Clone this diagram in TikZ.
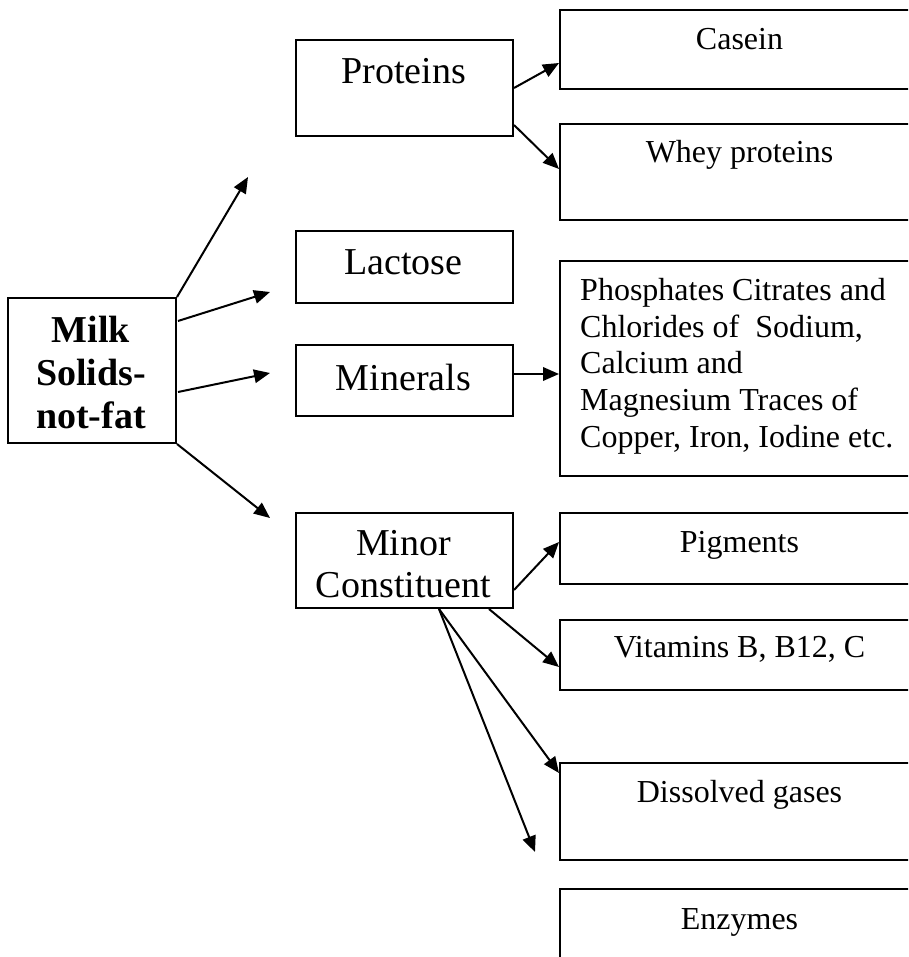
\documentclass[tikz,border=0pt]{standalone}
\usepackage{fontspec}
\setmainfont{Liberation Serif}
\usetikzlibrary{arrows.meta,calc}
\begin{document}
\begin{tikzpicture}[x=1pt,y=-1pt,
  box/.style={draw,line width=2pt,rectangle,inner sep=0pt,anchor=north west},
  big/.style={font=\fontsize{38}{44}\selectfont,inner sep=0pt,anchor=base},
  bigbold/.style={font=\fontsize{38}{44}\selectfont\bfseries,inner sep=0pt,anchor=base},
  small/.style={font=\fontsize{32}{37}\selectfont,inner sep=0pt,anchor=base},
  smallleft/.style={font=\fontsize{32}{37}\selectfont,inner sep=0pt,anchor=base west},
  link/.style={line width=2pt,-{Triangle[length=16pt,width=13.5pt]}}]
\useasboundingbox (0,0) rectangle (908,957);
\fill[white] (0,0) rectangle (908,957);
\clip (0,0) rectangle (908,957);

% root box
\node[box,minimum width=168pt,minimum height=145pt] (milk) at (7,297) {};
\node[bigbold] (milk1) at (91,342) {Milk};
\node[bigbold] (milk2) at (91,385) {Solids-};
\node[bigbold] (milk3) at (91,428) {not-fat};

% second level
\node[box,minimum width=217pt,minimum height=96pt] (prot) at (295,39) {};
\node[big] (protT) at (403.5,84) {Proteins};
\node[box,minimum width=217pt,minimum height=72pt] (lact) at (295,230) {};
\node[big] (lactT) at (403.5,275) {Lactose};
\node[box,minimum width=217pt,minimum height=71pt] (minr) at (295,344) {};
\node[big] (minrT) at (403.5,390) {Minerals};
\node[box,minimum width=217pt,minimum height=95pt] (minor) at (295,512) {};
\node[big] (minor1) at (403.5,555) {Minor};
\node[big] (minor2) at (403.5,597) {Constituent};

% third level
\node[box,minimum width=361pt,minimum height=79pt] (casein) at (559,9) {};
\node[small] (caseinT) at (739.5,50) {Casein};
\node[box,minimum width=361pt,minimum height=96pt] (whey) at (559,123) {};
\node[small] (wheyT) at (739.5,163) {Whey proteins};
\node[box,minimum width=361pt,minimum height=215pt] (phos) at (559,260) {};
\node[smallleft] (phos1) at (580,300) {Phosphates Citrates and};
\node[smallleft] (phos2) at (580,337) {Chlorides of~ Sodium,};
\node[smallleft] (phos3) at (580,373) {Calcium and};
\node[smallleft] (phos4) at (580,410) {Magnesium Traces of};
\node[smallleft] (phos5) at (580,447) {Copper, Iron, Iodine etc.};
\node[box,minimum width=361pt,minimum height=71pt] (pig) at (559,512) {};
\node[small] (pigT) at (739.5,552) {Pigments};
\node[box,minimum width=361pt,minimum height=70pt] (vit) at (559,619) {};
\node[small] (vitT) at (739.5,657) {Vitamins B, B12, C};
\node[box,minimum width=361pt,minimum height=97pt] (diss) at (559,762) {};
\node[small] (dissT) at (739.5,802) {Dissolved gases};
\node[box,minimum width=361pt,minimum height=100pt] (enz) at (559,888) {};
\node[small] (enzT) at (739.5,929) {Enzymes};

% free arrow ends
\coordinate (freeA) at (248,177);
\coordinate (freeB) at (535,852);

% connectors from the root
\draw[link] (milk.north east) -- (freeA);
\draw[link] ($(milk.north east)+(1,24)$) -- ($(lact.south west)+(-25,-12)$);
\draw[link] ($(milk.north east)+(1,95)$) -- ($(minr.north west)+(-25,29)$);
\draw[link] (milk.south east) -- ($(minor.north west)+(-25,6)$);

% connectors to the third level
\draw[link] (prot.east) -- ($(casein.north west)+(0,54)$);
\draw[link] ($(prot.south east)+(0,-12)$) -- ($(whey.north west)+(0,46)$);
\draw[link] ($(minr.north east)+(0,30)$) -- ($(phos.north west)+(0,114)$);
\draw[link] ($(minor.south east)+(0,-19)$) -- ($(pig.north west)+(0,30)$);
\draw[link] ($(minor.south east)+(-25,0)$) -- ($(vit.north west)+(0,48)$);
\draw[link] ($(minor.south west)+(144,0)$) -- ($(diss.north west)+(0,11)$);
\draw[link] ($(minor.south west)+(144,0)$) -- (freeB);
\end{tikzpicture}
\end{document}
